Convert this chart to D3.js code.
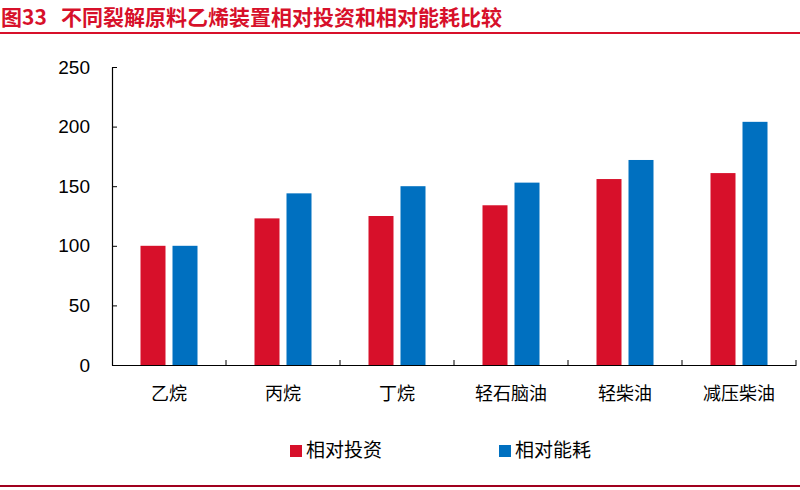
<!DOCTYPE html>
<html><head><meta charset="utf-8">
<script src="https://cdn.jsdelivr.net/npm/d3@7/dist/d3.min.js"></script>
<style>body{margin:0;background:#fff}svg{display:block}text{font-family:"Liberation Sans",Arial,"Noto Sans CJK SC",sans-serif}</style>
</head><body>
<script>
const categories = ["乙烷","丙烷","丁烷","轻石脑油","轻柴油","减压柴油"];
const seriesNames = ["相对投资","相对能耗"];
const investment = [100,123,125,134,156,161];
const energy = [100,144,150,153,172,204];
const yTicks = [0,50,100,150,200,250];
const colors = ["#D7102A","#0070C0"];
const titleNum = "图33";
const titleText = "不同裂解原料乙烯装置相对投资和相对能耗比较";

const W=800,H=490;
const svg=d3.select("body").append("svg").attr("width",W).attr("height",H);
const cjk='"Noto Sans CJK SC",sans-serif';

// title
svg.append("text").attr("x",1).attr("y",25).attr("fill","#D7102A").attr("font-weight","bold")
  .attr("font-size",21).style("font-family",cjk).text(titleNum);
svg.append("text").attr("x",61).attr("y",25).attr("fill","#D7102A").attr("font-weight","bold")
  .attr("font-size",21).style("font-family",cjk).text(titleText);
svg.append("line").attr("x1",0).attr("x2",W).attr("y1",33).attr("y2",33).attr("stroke","#D7102A").attr("stroke-width",2);
svg.append("line").attr("x1",0).attr("x2",W).attr("y1",486).attr("y2",486).attr("stroke","#A0001E").attr("stroke-width",2);

const x0=d3.scaleBand().domain(categories).range([112,796]).paddingInner(0).paddingOuter(0);
const y=d3.scaleLinear().domain([0,250]).range([365,67]);
const barW=25, gap=7;

const data=categories.map((c,i)=>({c,vals:[investment[i],energy[i]]}));
const g=svg.append("g");
data.forEach(d=>{
  d.vals.forEach((v,j)=>{
    const cx=x0(d.c)+x0.bandwidth()/2;
    const xx = j===0 ? cx-gap/2-barW : cx+gap/2;
    g.append("rect").attr("x",xx).attr("y",y(v)).attr("width",barW).attr("height",y(0)-y(v)).attr("fill",colors[j]);
  });
});

// y axis
const ya=svg.append("g").attr("transform","translate(112,0)")
  .call(d3.axisLeft(y).tickValues(yTicks).tickSizeInner(-5).tickSizeOuter(0).tickPadding(22));
ya.select(".domain").attr("stroke","#000").attr("stroke-width",1.2);
ya.selectAll(".tick line").attr("stroke","#000");
ya.selectAll(".tick text").attr("font-size",19).attr("fill","#000").style("font-family",'"Liberation Sans",Arial,sans-serif');

// x axis
const xa=svg.append("g").attr("transform","translate(0,365)").call(d3.axisBottom(x0).tickSize(0).tickPadding(22));
xa.select(".domain").attr("stroke","#000").attr("stroke-width",1.2);
xa.selectAll(".tick text").attr("font-size",18).attr("fill","#000").style("font-family",cjk);
// category separator ticks
const bounds=categories.map(c=>x0(c)).slice(1).concat([x0(categories[categories.length-1])+x0.bandwidth()]);
svg.append("g").selectAll("line").data(bounds).join("line")
  .attr("x1",d=>d).attr("x2",d=>d).attr("y1",365).attr("y2",360).attr("stroke","#000");

// legend
const legX=[290,499];
seriesNames.forEach((n,i)=>{
  svg.append("rect").attr("x",legX[i]).attr("y",445).attr("width",12).attr("height",12).attr("fill",colors[i]);
  svg.append("text").attr("x",legX[i]+16).attr("y",457).attr("font-size",19).attr("fill","#000").style("font-family",cjk).text(n);
});
</script>
</body></html>
